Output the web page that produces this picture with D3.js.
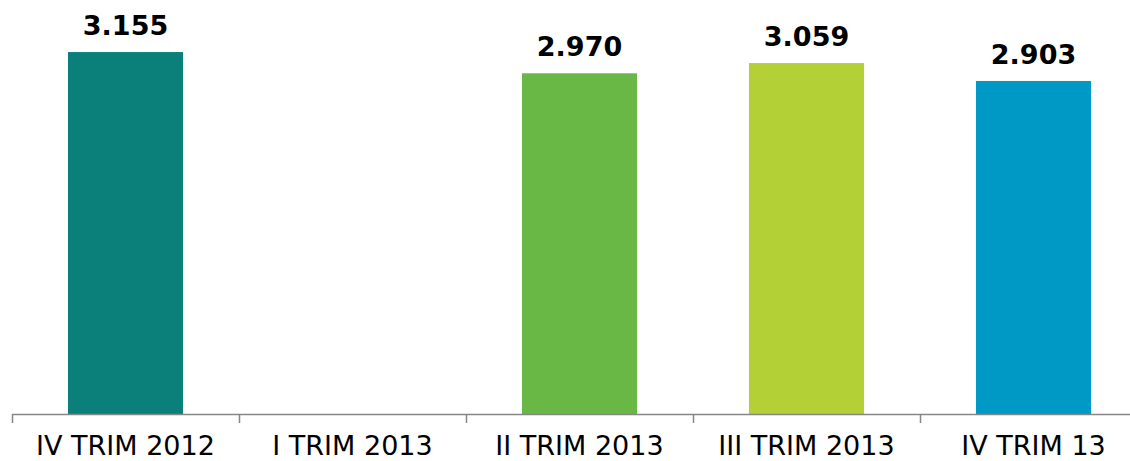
<!DOCTYPE html>
<html>
<head>
<meta charset="utf-8">
<script src="https://cdn.jsdelivr.net/npm/d3@7"></script>
<style>
  body { margin: 0; background: #fff; }
  svg text { font-family: "DejaVu Sans", Verdana, sans-serif; }
</style>
</head>
<body>
<svg id="chart" width="1130" height="461"></svg>
<script>
// Data
var categories = ["IV TRIM 2012", "I TRIM 2013", "II TRIM 2013", "III TRIM 2013", "IV TRIM 13"];
var values = [3.155, null, 2.970, 3.059, 2.903];
var valueLabels = ["3.155", "", "2.970", "3.059", "2.903"];
var colors = ["#0b7f7a", "#ffffff", "#69b846", "#b3d136", "#0098c4"];

var svg = d3.select("#chart");

// Scales
var x = d3.scaleBand()
    .domain(categories)
    .range([12, 1147])
    .padding(0);
var y = d3.scaleLinear()
    .domain([0, 3.6])
    .range([414, 1]);

var barWidth = x.bandwidth() * 0.507;

// Bars
svg.selectAll(".bar")
    .data(categories)
    .enter().filter(function(d, i) { return values[i] != null; })
    .append("rect")
    .attr("class", "bar")
    .attr("x", function(d) { return x(d) + (x.bandwidth() - barWidth) / 2; })
    .attr("width", barWidth)
    .attr("y", function(d) { return y(values[categories.indexOf(d)]); })
    .attr("height", function(d) { return 414 - y(values[categories.indexOf(d)]); })
    .attr("fill", function(d) { return colors[categories.indexOf(d)]; });

// Value labels
svg.selectAll(".val")
    .data(categories)
    .enter().filter(function(d, i) { return values[i] != null; })
    .append("text")
    .attr("class", "val")
    .attr("x", function(d) { return x(d) + x.bandwidth() / 2; })
    .attr("y", function(d) { return y(values[categories.indexOf(d)]) - 17; })
    .attr("text-anchor", "middle")
    .style("font-size", "27px")
    .style("font-weight", "bold")
    .style("fill", "#000")
    .text(function(d) { return valueLabels[categories.indexOf(d)]; });

// X axis
var axis = svg.append("g")
    .attr("class", "x-axis")
    .attr("transform", "translate(0,414)");

axis.append("line")
    .attr("x1", 12).attr("x2", 1147)
    .attr("y1", 0.5).attr("y2", 0.5)
    .attr("stroke", "#868686")
    .attr("stroke-width", 1.5);

axis.selectAll(".tick")
    .data(categories)
    .enter().append("line")
    .attr("class", "tick")
    .attr("x1", function(d) { return Math.round(x(d)) + 0.5; })
    .attr("x2", function(d) { return Math.round(x(d)) + 0.5; })
    .attr("y1", 0).attr("y2", 9)
    .attr("stroke", "#868686")
    .attr("stroke-width", 1.5);

axis.selectAll(".lbl")
    .data(categories)
    .enter().append("text")
    .attr("class", "lbl")
    .attr("x", function(d) { return x(d) + x.bandwidth() / 2; })
    .attr("y", 41)
    .attr("text-anchor", "middle")
    .style("font-size", "27px")
    .style("fill", "#000")
    .text(function(d) { return d; });
</script>
</body>
</html>
